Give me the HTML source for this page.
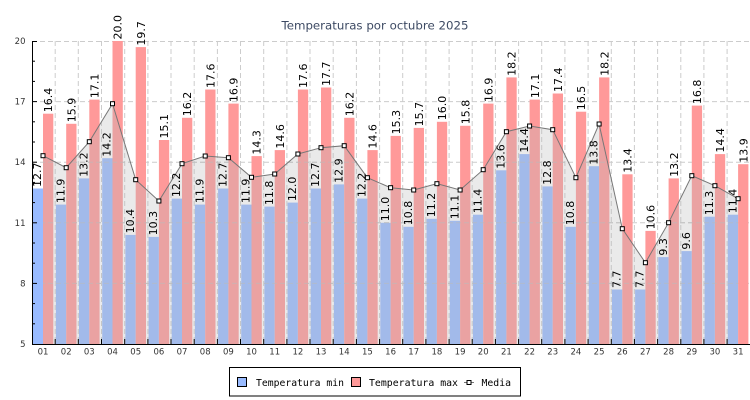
<!DOCTYPE html>
<html><head><meta charset="utf-8"><style>
html,body{margin:0;padding:0;background:#fff;}
svg{display:block;}
.vl{font-family:"DejaVu Sans","Liberation Sans",sans-serif;font-size:11px;fill:#000;}
.ax{font-family:"DejaVu Sans","Liberation Sans",sans-serif;font-size:8.5px;fill:#333;}
.lg{font-family:"DejaVu Sans Mono","Liberation Mono",monospace;font-size:9.8px;fill:#000;}
</style></head><body>
<svg width="750" height="400" viewBox="0 0 750 400" xmlns="http://www.w3.org/2000/svg">
<rect width="750" height="400" fill="#fff"/>
<text x="375" y="29.3" text-anchor="middle" textLength="187" lengthAdjust="spacingAndGlyphs" style="font-family:'DejaVu Sans','Liberation Sans',sans-serif;font-size:11.5px;fill:#3d4a63;">Temperaturas por octubre 2025</text>

<!-- grid -->
<g stroke="#cccccc" stroke-width="1" stroke-dasharray="5,3" fill="none">
<line x1="32" y1="41.5" x2="750" y2="41.5"/>
<line x1="32" y1="101.6" x2="750" y2="101.6"/>
<line x1="32" y1="162.2" x2="750" y2="162.2"/>
<line x1="32" y1="222.8" x2="750" y2="222.8"/>
<line x1="32" y1="283.4" x2="750" y2="283.4"/>
<line x1="55.2" y1="41" x2="55.2" y2="344"/><line x1="78.3" y1="41" x2="78.3" y2="344"/><line x1="101.5" y1="41" x2="101.5" y2="344"/><line x1="124.7" y1="41" x2="124.7" y2="344"/><line x1="147.9" y1="41" x2="147.9" y2="344"/><line x1="171.0" y1="41" x2="171.0" y2="344"/><line x1="194.2" y1="41" x2="194.2" y2="344"/><line x1="217.4" y1="41" x2="217.4" y2="344"/><line x1="240.5" y1="41" x2="240.5" y2="344"/><line x1="263.7" y1="41" x2="263.7" y2="344"/><line x1="286.9" y1="41" x2="286.9" y2="344"/><line x1="310.0" y1="41" x2="310.0" y2="344"/><line x1="333.2" y1="41" x2="333.2" y2="344"/><line x1="356.4" y1="41" x2="356.4" y2="344"/><line x1="379.6" y1="41" x2="379.6" y2="344"/><line x1="402.7" y1="41" x2="402.7" y2="344"/><line x1="425.9" y1="41" x2="425.9" y2="344"/><line x1="449.1" y1="41" x2="449.1" y2="344"/><line x1="472.2" y1="41" x2="472.2" y2="344"/><line x1="495.4" y1="41" x2="495.4" y2="344"/><line x1="518.6" y1="41" x2="518.6" y2="344"/><line x1="541.7" y1="41" x2="541.7" y2="344"/><line x1="564.9" y1="41" x2="564.9" y2="344"/><line x1="588.1" y1="41" x2="588.1" y2="344"/><line x1="611.3" y1="41" x2="611.3" y2="344"/><line x1="634.4" y1="41" x2="634.4" y2="344"/><line x1="657.6" y1="41" x2="657.6" y2="344"/><line x1="680.8" y1="41" x2="680.8" y2="344"/><line x1="703.9" y1="41" x2="703.9" y2="344"/><line x1="727.1" y1="41" x2="727.1" y2="344"/>
</g>

<!-- min bars -->
<g fill="#99bbff">
<rect x="32.7" y="188.5" width="10.3" height="155.5"/>
<rect x="55.9" y="204.6" width="10.3" height="139.4"/>
<rect x="79.0" y="178.4" width="10.3" height="165.6"/>
<rect x="102.2" y="158.2" width="10.3" height="185.8"/>
<rect x="125.4" y="234.9" width="10.3" height="109.1"/>
<rect x="148.6" y="236.9" width="10.3" height="107.1"/>
<rect x="171.7" y="198.6" width="10.3" height="145.4"/>
<rect x="194.9" y="204.6" width="10.3" height="139.4"/>
<rect x="218.1" y="188.5" width="10.3" height="155.5"/>
<rect x="241.2" y="204.6" width="10.3" height="139.4"/>
<rect x="264.4" y="206.6" width="10.3" height="137.4"/>
<rect x="287.6" y="202.6" width="10.3" height="141.4"/>
<rect x="310.7" y="188.5" width="10.3" height="155.5"/>
<rect x="333.9" y="184.4" width="10.3" height="159.6"/>
<rect x="357.1" y="198.6" width="10.3" height="145.4"/>
<rect x="380.3" y="222.8" width="10.3" height="121.2"/>
<rect x="403.4" y="226.8" width="10.3" height="117.2"/>
<rect x="426.6" y="218.8" width="10.3" height="125.2"/>
<rect x="449.8" y="220.8" width="10.3" height="123.2"/>
<rect x="472.9" y="214.7" width="10.3" height="129.3"/>
<rect x="496.1" y="170.3" width="10.3" height="173.7"/>
<rect x="519.3" y="154.1" width="10.3" height="189.9"/>
<rect x="542.4" y="186.4" width="10.3" height="157.6"/>
<rect x="565.6" y="226.8" width="10.3" height="117.2"/>
<rect x="588.8" y="166.2" width="10.3" height="177.8"/>
<rect x="612.0" y="289.5" width="10.3" height="54.5"/>
<rect x="635.1" y="289.5" width="10.3" height="54.5"/>
<rect x="658.3" y="257.1" width="10.3" height="86.9"/>
<rect x="681.5" y="251.1" width="10.3" height="92.9"/>
<rect x="704.6" y="216.7" width="10.3" height="127.3"/>
<rect x="727.8" y="214.7" width="10.3" height="129.3"/>
</g>
<!-- max bars -->
<g fill="#ff9999">
<rect x="43.0" y="113.7" width="10.3" height="230.3"/>
<rect x="66.2" y="123.8" width="10.3" height="220.2"/>
<rect x="89.3" y="99.6" width="10.3" height="244.4"/>
<rect x="112.5" y="41" width="10.3" height="303"/>
<rect x="135.7" y="47.1" width="10.3" height="296.9"/>
<rect x="158.9" y="140.0" width="10.3" height="204"/>
<rect x="182.0" y="117.8" width="10.3" height="226.2"/>
<rect x="205.2" y="89.5" width="10.3" height="254.5"/>
<rect x="228.4" y="103.6" width="10.3" height="240.4"/>
<rect x="251.5" y="156.1" width="10.3" height="187.9"/>
<rect x="274.7" y="150.1" width="10.3" height="193.9"/>
<rect x="297.9" y="89.5" width="10.3" height="254.5"/>
<rect x="321.0" y="87.5" width="10.3" height="256.5"/>
<rect x="344.2" y="117.8" width="10.3" height="226.2"/>
<rect x="367.4" y="150.1" width="10.3" height="193.9"/>
<rect x="390.6" y="135.9" width="10.3" height="208.1"/>
<rect x="413.7" y="127.9" width="10.3" height="216.1"/>
<rect x="436.9" y="121.8" width="10.3" height="222.2"/>
<rect x="460.1" y="125.8" width="10.3" height="218.2"/>
<rect x="483.2" y="103.6" width="10.3" height="240.4"/>
<rect x="506.4" y="77.4" width="10.3" height="266.6"/>
<rect x="529.6" y="99.6" width="10.3" height="244.4"/>
<rect x="552.7" y="93.5" width="10.3" height="250.5"/>
<rect x="575.9" y="111.7" width="10.3" height="232.3"/>
<rect x="599.1" y="77.4" width="10.3" height="266.6"/>
<rect x="622.3" y="174.3" width="10.3" height="169.7"/>
<rect x="645.4" y="230.9" width="10.3" height="113.1"/>
<rect x="668.6" y="178.4" width="10.3" height="165.6"/>
<rect x="691.8" y="105.6" width="10.3" height="238.4"/>
<rect x="714.9" y="154.1" width="10.3" height="189.9"/>
<rect x="738.1" y="164.2" width="10.3" height="179.8"/>
</g>

<defs>
<clipPath id="ac"><polygon points="43,344 43,155.7 66.2,167.7 89.3,141.7 112.5,103.7 135.7,179.7 158.9,201 182,163.7 205.2,156 228.4,157.7 251.5,177.3 274.7,174 297.9,154 321,147.7 344.2,145.7 367.4,177.7 390.6,187.7 413.7,190 436.9,183.7 460.1,190 483.2,169.7 506.4,131.7 529.6,126 552.7,129.7 575.9,177.7 599.1,124 622.3,228.7 645.4,262.7 668.6,222.7 691.8,175.7 714.9,185.7 738.1,198.7 738.1,344"/></clipPath>
</defs>
<!-- area -->
<polygon points="43,344 43,155.7 66.2,167.7 89.3,141.7 112.5,103.7 135.7,179.7 158.9,201 182,163.7 205.2,156 228.4,157.7 251.5,177.3 274.7,174 297.9,154 321,147.7 344.2,145.7 367.4,177.7 390.6,187.7 413.7,190 436.9,183.7 460.1,190 483.2,169.7 506.4,131.7 529.6,126 552.7,129.7 575.9,177.7 599.1,124 622.3,228.7 645.4,262.7 668.6,222.7 691.8,175.7 714.9,185.7 738.1,198.7 738.1,344" fill="#bbbbbb" fill-opacity="0.3"/>
<g clip-path="url(#ac)" stroke="#bbbbbb" stroke-opacity="0.6" stroke-dasharray="5,3">
<line x1="32" y1="101.6" x2="750" y2="101.6"/>
<line x1="32" y1="162.2" x2="750" y2="162.2"/>
<line x1="32" y1="222.8" x2="750" y2="222.8"/>
<line x1="32" y1="283.4" x2="750" y2="283.4"/>
</g>

<!-- media line -->
<polyline fill="none" stroke="#777" stroke-width="1" points="43,155.7 66.2,167.7 89.3,141.7 112.5,103.7 135.7,179.7 158.9,201 182,163.7 205.2,156 228.4,157.7 251.5,177.3 274.7,174 297.9,154 321,147.7 344.2,145.7 367.4,177.7 390.6,187.7 413.7,190 436.9,183.7 460.1,190 483.2,169.7 506.4,131.7 529.6,126 552.7,129.7 575.9,177.7 599.1,124 622.3,228.7 645.4,262.7 668.6,222.7 691.8,175.7 714.9,185.7 738.1,198.7"/>

<!-- axes -->
<g stroke="#000" stroke-width="1">
<line x1="32.5" y1="41" x2="32.5" y2="344.5"/>
<line x1="32" y1="344.5" x2="750" y2="344.5"/>
<line x1="32" y1="41.5" x2="37" y2="41.5"/><line x1="32" y1="101.6" x2="37" y2="101.6"/><line x1="32" y1="162.2" x2="37" y2="162.2"/><line x1="32" y1="222.8" x2="37" y2="222.8"/><line x1="32" y1="283.4" x2="37" y2="283.4"/>
<line x1="32" y1="61.2" x2="35" y2="61.2"/><line x1="32" y1="81.4" x2="35" y2="81.4"/><line x1="32" y1="121.8" x2="35" y2="121.8"/><line x1="32" y1="142" x2="35" y2="142"/><line x1="32" y1="182.4" x2="35" y2="182.4"/><line x1="32" y1="202.6" x2="35" y2="202.6"/><line x1="32" y1="243" x2="35" y2="243"/><line x1="32" y1="263.2" x2="35" y2="263.2"/><line x1="32" y1="303.6" x2="35" y2="303.6"/><line x1="32" y1="323.8" x2="35" y2="323.8"/>
<line x1="55.2" y1="339" x2="55.2" y2="344"/><line x1="78.3" y1="339" x2="78.3" y2="344"/><line x1="101.5" y1="339" x2="101.5" y2="344"/><line x1="124.7" y1="339" x2="124.7" y2="344"/><line x1="147.9" y1="339" x2="147.9" y2="344"/><line x1="171.0" y1="339" x2="171.0" y2="344"/><line x1="194.2" y1="339" x2="194.2" y2="344"/><line x1="217.4" y1="339" x2="217.4" y2="344"/><line x1="240.5" y1="339" x2="240.5" y2="344"/><line x1="263.7" y1="339" x2="263.7" y2="344"/><line x1="286.9" y1="339" x2="286.9" y2="344"/><line x1="310.0" y1="339" x2="310.0" y2="344"/><line x1="333.2" y1="339" x2="333.2" y2="344"/><line x1="356.4" y1="339" x2="356.4" y2="344"/><line x1="379.6" y1="339" x2="379.6" y2="344"/><line x1="402.7" y1="339" x2="402.7" y2="344"/><line x1="425.9" y1="339" x2="425.9" y2="344"/><line x1="449.1" y1="339" x2="449.1" y2="344"/><line x1="472.2" y1="339" x2="472.2" y2="344"/><line x1="495.4" y1="339" x2="495.4" y2="344"/><line x1="518.6" y1="339" x2="518.6" y2="344"/><line x1="541.7" y1="339" x2="541.7" y2="344"/><line x1="564.9" y1="339" x2="564.9" y2="344"/><line x1="588.1" y1="339" x2="588.1" y2="344"/><line x1="611.3" y1="339" x2="611.3" y2="344"/><line x1="634.4" y1="339" x2="634.4" y2="344"/><line x1="657.6" y1="339" x2="657.6" y2="344"/><line x1="680.8" y1="339" x2="680.8" y2="344"/><line x1="703.9" y1="339" x2="703.9" y2="344"/><line x1="727.1" y1="339" x2="727.1" y2="344"/>
</g>

<!-- markers -->
<g fill="#fff" stroke="#000" stroke-width="1">
<rect x="41" y="153.7" width="4" height="4"/><rect x="64.2" y="165.7" width="4" height="4"/><rect x="87.3" y="139.7" width="4" height="4"/><rect x="110.5" y="101.7" width="4" height="4"/><rect x="133.7" y="177.7" width="4" height="4"/><rect x="156.9" y="199" width="4" height="4"/><rect x="180" y="161.7" width="4" height="4"/><rect x="203.2" y="154" width="4" height="4"/><rect x="226.4" y="155.7" width="4" height="4"/><rect x="249.5" y="175.3" width="4" height="4"/><rect x="272.7" y="172" width="4" height="4"/><rect x="295.9" y="152" width="4" height="4"/><rect x="319" y="145.7" width="4" height="4"/><rect x="342.2" y="143.7" width="4" height="4"/><rect x="365.4" y="175.7" width="4" height="4"/><rect x="388.6" y="185.7" width="4" height="4"/><rect x="411.7" y="188" width="4" height="4"/><rect x="434.9" y="181.7" width="4" height="4"/><rect x="458.1" y="188" width="4" height="4"/><rect x="481.2" y="167.7" width="4" height="4"/><rect x="504.4" y="129.7" width="4" height="4"/><rect x="527.6" y="124" width="4" height="4"/><rect x="550.7" y="127.7" width="4" height="4"/><rect x="573.9" y="175.7" width="4" height="4"/><rect x="597.1" y="122" width="4" height="4"/><rect x="620.3" y="226.7" width="4" height="4"/><rect x="643.4" y="260.7" width="4" height="4"/><rect x="666.6" y="220.7" width="4" height="4"/><rect x="689.8" y="173.7" width="4" height="4"/><rect x="712.9" y="183.7" width="4" height="4"/><rect x="736.1" y="196.7" width="4" height="4"/>
</g>

<!-- y labels -->
<g class="ax" text-anchor="end">
<text x="25.5" y="44">20</text><text x="25.5" y="104.6">17</text><text x="25.5" y="165.2">14</text><text x="25.5" y="225.8">11</text><text x="25.5" y="286.4">8</text><text x="25.5" y="347">5</text>
</g>
<!-- x labels -->
<g class="ax" text-anchor="middle">
<text x="43" y="354.5">01</text><text x="66.2" y="354.5">02</text><text x="89.3" y="354.5">03</text><text x="112.5" y="354.5">04</text><text x="135.7" y="354.5">05</text><text x="158.9" y="354.5">06</text><text x="182" y="354.5">07</text><text x="205.2" y="354.5">08</text><text x="228.4" y="354.5">09</text><text x="251.5" y="354.5">10</text><text x="274.7" y="354.5">11</text><text x="297.9" y="354.5">12</text><text x="321" y="354.5">13</text><text x="344.2" y="354.5">14</text><text x="367.4" y="354.5">15</text><text x="390.6" y="354.5">16</text><text x="413.7" y="354.5">17</text><text x="436.9" y="354.5">18</text><text x="460.1" y="354.5">19</text><text x="483.2" y="354.5">20</text><text x="506.4" y="354.5">21</text><text x="529.6" y="354.5">22</text><text x="552.7" y="354.5">23</text><text x="575.9" y="354.5">24</text><text x="599.1" y="354.5">25</text><text x="622.3" y="354.5">26</text><text x="645.4" y="354.5">27</text><text x="668.6" y="354.5">28</text><text x="691.8" y="354.5">29</text><text x="714.9" y="354.5">30</text><text x="738.1" y="354.5">31</text>
</g>

<!-- value labels min -->
<g class="vl">
<text transform="translate(41.2,187) rotate(-90)">12.7</text>
<text transform="translate(64.4,203.1) rotate(-90)">11.9</text>
<text transform="translate(87.5,176.9) rotate(-90)">13.2</text>
<text transform="translate(110.7,156.7) rotate(-90)">14.2</text>
<text transform="translate(133.9,233.4) rotate(-90)">10.4</text>
<text transform="translate(157.1,235.4) rotate(-90)">10.3</text>
<text transform="translate(180.2,197.1) rotate(-90)">12.2</text>
<text transform="translate(203.4,203.1) rotate(-90)">11.9</text>
<text transform="translate(226.6,187) rotate(-90)">12.7</text>
<text transform="translate(249.7,203.1) rotate(-90)">11.9</text>
<text transform="translate(272.9,205.1) rotate(-90)">11.8</text>
<text transform="translate(296.1,201.1) rotate(-90)">12.0</text>
<text transform="translate(319.2,187) rotate(-90)">12.7</text>
<text transform="translate(342.4,182.9) rotate(-90)">12.9</text>
<text transform="translate(365.6,197.1) rotate(-90)">12.2</text>
<text transform="translate(388.8,221.3) rotate(-90)">11.0</text>
<text transform="translate(411.9,225.3) rotate(-90)">10.8</text>
<text transform="translate(435.1,217.3) rotate(-90)">11.2</text>
<text transform="translate(458.3,219.3) rotate(-90)">11.1</text>
<text transform="translate(481.4,213.2) rotate(-90)">11.4</text>
<text transform="translate(504.6,168.8) rotate(-90)">13.6</text>
<text transform="translate(527.8,152.6) rotate(-90)">14.4</text>
<text transform="translate(550.9,184.9) rotate(-90)">12.8</text>
<text transform="translate(574.1,225.3) rotate(-90)">10.8</text>
<text transform="translate(597.3,164.7) rotate(-90)">13.8</text>
<text transform="translate(620.5,288) rotate(-90)">7.7</text>
<text transform="translate(643.6,288) rotate(-90)">7.7</text>
<text transform="translate(666.8,255.6) rotate(-90)">9.3</text>
<text transform="translate(690,249.6) rotate(-90)">9.6</text>
<text transform="translate(713.1,215.2) rotate(-90)">11.3</text>
<text transform="translate(736.3,213.2) rotate(-90)">11.4</text>
</g>
<!-- value labels max -->
<g class="vl">
<text transform="translate(52.2,112.2) rotate(-90)">16.4</text>
<text transform="translate(75.4,122.3) rotate(-90)">15.9</text>
<text transform="translate(98.5,98.1) rotate(-90)">17.1</text>
<text transform="translate(121.7,39.5) rotate(-90)">20.0</text>
<text transform="translate(144.9,45.6) rotate(-90)">19.7</text>
<text transform="translate(168.1,138.5) rotate(-90)">15.1</text>
<text transform="translate(191.2,116.3) rotate(-90)">16.2</text>
<text transform="translate(214.4,88) rotate(-90)">17.6</text>
<text transform="translate(237.6,102.1) rotate(-90)">16.9</text>
<text transform="translate(260.7,154.6) rotate(-90)">14.3</text>
<text transform="translate(283.9,148.6) rotate(-90)">14.6</text>
<text transform="translate(307.1,88) rotate(-90)">17.6</text>
<text transform="translate(330.2,86) rotate(-90)">17.7</text>
<text transform="translate(353.4,116.3) rotate(-90)">16.2</text>
<text transform="translate(376.6,148.6) rotate(-90)">14.6</text>
<text transform="translate(399.8,134.4) rotate(-90)">15.3</text>
<text transform="translate(422.9,126.4) rotate(-90)">15.7</text>
<text transform="translate(446.1,120.3) rotate(-90)">16.0</text>
<text transform="translate(469.3,124.3) rotate(-90)">15.8</text>
<text transform="translate(492.4,102.1) rotate(-90)">16.9</text>
<text transform="translate(515.6,75.9) rotate(-90)">18.2</text>
<text transform="translate(538.8,98.1) rotate(-90)">17.1</text>
<text transform="translate(561.9,92) rotate(-90)">17.4</text>
<text transform="translate(585.1,110.2) rotate(-90)">16.5</text>
<text transform="translate(608.3,75.9) rotate(-90)">18.2</text>
<text transform="translate(631.5,172.8) rotate(-90)">13.4</text>
<text transform="translate(654.6,229.4) rotate(-90)">10.6</text>
<text transform="translate(677.8,176.9) rotate(-90)">13.2</text>
<text transform="translate(701,104.1) rotate(-90)">16.8</text>
<text transform="translate(724.1,152.6) rotate(-90)">14.4</text>
<text transform="translate(747.3,162.7) rotate(-90)">13.9</text>
</g>

<!-- legend -->
<rect x="229.5" y="367.5" width="291" height="28.5" fill="#fff" stroke="#000" stroke-width="1"/>
<rect x="237.5" y="377.5" width="9" height="9" fill="#99bbff" stroke="#000" stroke-width="1"/>
<text class="lg" x="256" y="386" textLength="88" lengthAdjust="spacingAndGlyphs">Temperatura min</text>
<rect x="351.5" y="377.5" width="9" height="9" fill="#ff9999" stroke="#000" stroke-width="1"/>
<text class="lg" x="369" y="386" textLength="89" lengthAdjust="spacingAndGlyphs">Temperatura max</text>
<line x1="464" y1="382.5" x2="474" y2="382.5" stroke="#777" stroke-width="1"/>
<rect x="467" y="380.5" width="4" height="4" fill="#fff" stroke="#000" stroke-width="1"/>
<text class="lg" x="481.5" y="386" textLength="29.5" lengthAdjust="spacingAndGlyphs">Media</text>
</svg>
</body></html>
